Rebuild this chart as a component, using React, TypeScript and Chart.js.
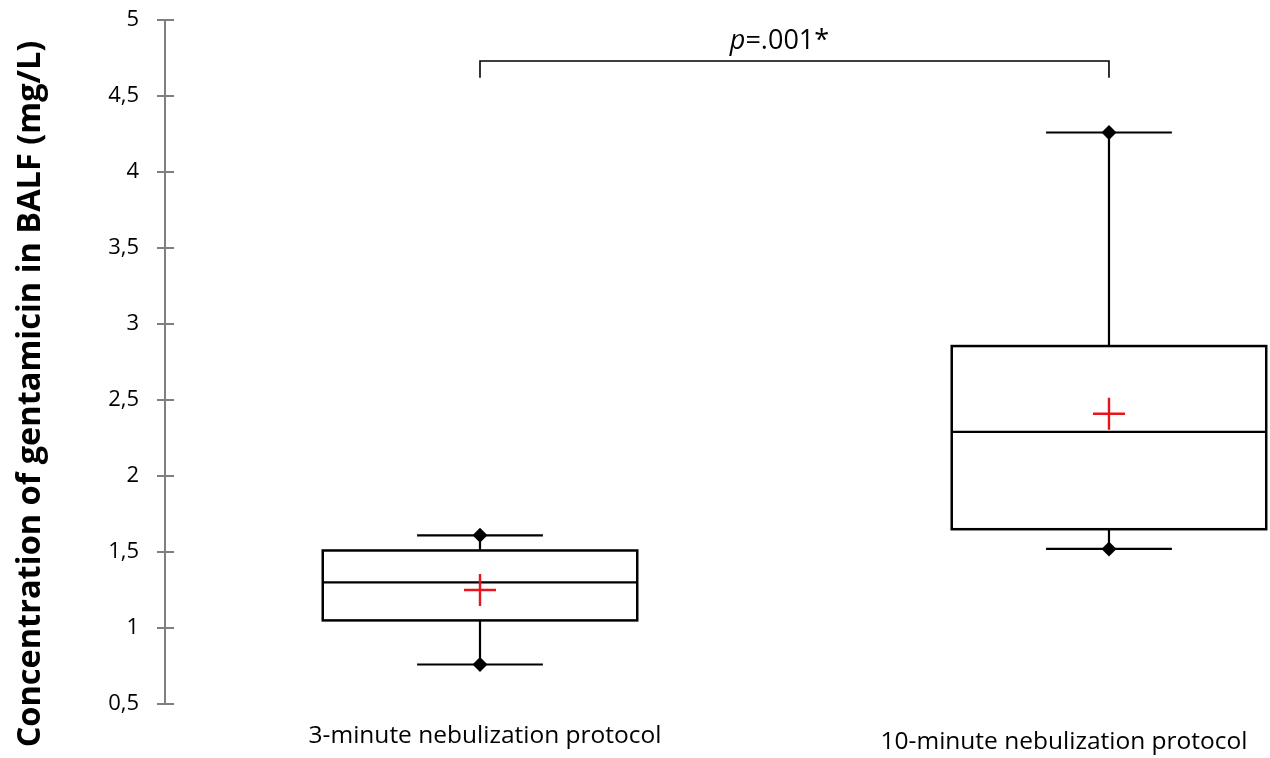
import React, { useEffect, useRef } from "react";
import { Chart, registerables } from "chart.js";

Chart.register(...registerables);

const categories = ["3-minute nebulization protocol", "10-minute nebulization protocol"];
const categoryX = [1, 2];
const q1Values = [1.05, 1.65];
const q3Values = [1.51, 2.855];
const medianValues = [1.3, 2.29];
const meanValues = [1.25, 2.41];
const minValues = [0.76, 1.52];
const maxValues = [1.61, 4.26];
const yTicks = [0.5, 1, 1.5, 2, 2.5, 3, 3.5, 4, 4.5, 5];
const yTitle = "Concentration of gentamicin in BALF (mg/L)";
const pLabelItalic = "p";
const pLabelRest = "=.001*";
const bracketValue = 4.73;
const bracketLegValue = 4.62;

const BOX_HALF = 0.25;
const CAP_HALF = 0.1;
const FONT = "'Open Sans', 'DejaVu Sans', sans-serif";
const AXIS_GRAY = "#7f7f7f";

const boxPlugin = {
  id: "boxPlugin",
  beforeDatasetsDraw(chart: any) {
    const { ctx, scales } = chart;
    const xs = scales.x;
    const ys = scales.y;
    ctx.save();
    ctx.strokeStyle = "#000";
    ctx.lineCap = "butt";
    for (let i = 0; i < categories.length; i++) {
      const cx = xs.getPixelForValue(categoryX[i]);
      const l = xs.getPixelForValue(categoryX[i] - BOX_HALF);
      const r = xs.getPixelForValue(categoryX[i] + BOX_HALF);
      const cl = xs.getPixelForValue(categoryX[i] - CAP_HALF);
      const cr = xs.getPixelForValue(categoryX[i] + CAP_HALF);
      const yq1 = ys.getPixelForValue(q1Values[i]);
      const yq3 = ys.getPixelForValue(q3Values[i]);
      const ymed = ys.getPixelForValue(medianValues[i]);
      const ymin = ys.getPixelForValue(minValues[i]);
      const ymax = ys.getPixelForValue(maxValues[i]);
      ctx.lineWidth = 2.2;
      ctx.beginPath();
      ctx.moveTo(cx, yq3);
      ctx.lineTo(cx, ymax);
      ctx.moveTo(cx, yq1);
      ctx.lineTo(cx, ymin);
      ctx.moveTo(cl, ymax);
      ctx.lineTo(cr, ymax);
      ctx.moveTo(cl, ymin);
      ctx.lineTo(cr, ymin);
      ctx.stroke();
      ctx.fillStyle = "#fff";
      ctx.fillRect(l, yq3, r - l, yq1 - yq3);
      ctx.lineWidth = 2.5;
      ctx.strokeRect(l, yq3, r - l, yq1 - yq3);
      ctx.lineWidth = 2.2;
      ctx.beginPath();
      ctx.moveTo(l, ymed);
      ctx.lineTo(r, ymed);
      ctx.stroke();
    }
    // bracket
    const bx1 = xs.getPixelForValue(categoryX[0]);
    const bx2 = xs.getPixelForValue(categoryX[1]);
    const by = ys.getPixelForValue(bracketValue);
    const byl = ys.getPixelForValue(bracketLegValue);
    ctx.lineWidth = 1.6;
    ctx.beginPath();
    ctx.moveTo(bx1, byl);
    ctx.lineTo(bx1, by);
    ctx.lineTo(bx2, by);
    ctx.lineTo(bx2, byl);
    ctx.stroke();
    // p label
    ctx.fillStyle = "#000";
    ctx.textBaseline = "alphabetic";
    ctx.font = `italic 27px ${FONT}`;
    const w1 = ctx.measureText(pLabelItalic).width;
    ctx.font = `27px ${FONT}`;
    const w2 = ctx.measureText(pLabelRest).width;
    const pcx = (bx1 + bx2) / 2 - 15;
    const px = pcx - (w1 + w2) / 2;
    const py = by - 12;
    ctx.font = `italic 27px ${FONT}`;
    ctx.textAlign = "left";
    ctx.fillText(pLabelItalic, px, py);
    ctx.font = `27px ${FONT}`;
    ctx.fillText(pLabelRest, px + w1, py);

    // small ticks to the right of the axis
    ctx.strokeStyle = AXIS_GRAY;
    ctx.lineWidth = 2;
    const ax = chart.chartArea.left;
    ctx.beginPath();
    for (const t of yTicks) {
      const ty = Math.round(ys.getPixelForValue(t));
      ctx.moveTo(ax, ty);
      ctx.lineTo(ax + 9, ty);
    }
    ctx.stroke();

    // category labels
    ctx.fillStyle = "#000";
    ctx.font = `24.5px ${FONT}`;
    ctx.textAlign = "center";
    ctx.textBaseline = "middle";
    const labelOffsets = [[5, 736], [-45, 742]];
    for (let i = 0; i < categories.length; i++) {
      const cx = xs.getPixelForValue(categoryX[i]);
      ctx.fillText(categories[i], cx + labelOffsets[i][0], labelOffsets[i][1]);
    }

    // y title
    ctx.save();
    ctx.translate(31, 394);
    ctx.rotate(-Math.PI / 2);
    ctx.font = `bold 32.5px ${FONT}`;
    ctx.textAlign = "center";
    ctx.textBaseline = "middle";
    ctx.fillText(yTitle, 0, 0);
    ctx.restore();
    ctx.restore();
  },
};

export default function App() {
  const ref = useRef<HTMLCanvasElement>(null);
  useEffect(() => {
    if (!ref.current) return;
    const chart = new Chart(ref.current, {
      type: "scatter",
      data: {
        datasets: [
          {
            label: "whisker ends",
            data: [
              ...categoryX.map((x, i) => ({ x, y: minValues[i] })),
              ...categoryX.map((x, i) => ({ x, y: maxValues[i] })),
            ],
            pointStyle: "rectRot",
            pointRadius: 7.5,
            backgroundColor: "#000",
            borderColor: "#000",
            borderWidth: 0,
          },
          {
            label: "mean",
            data: categoryX.map((x, i) => ({ x, y: meanValues[i] })),
            pointStyle: "cross",
            pointRadius: 16,
            borderColor: "#e8141c",
            borderWidth: 2.4,
          },
        ],
      },
      options: {
        animation: false,
        responsive: false,
        events: [],
        layout: { autoPadding: false, padding: { left: 0, right: 0, top: 20, bottom: 54 } },
        plugins: { legend: { display: false }, tooltip: { enabled: false } },
        scales: {
          x: {
            type: "linear",
            display: false,
            min: 0.4992,
            max: 2.256,
          },
          y: {
            type: "linear",
            min: 0.5,
            max: 5,
            afterFit: (s: any) => {
              s.width = 165;
              s.paddingTop = 0;
              s.paddingBottom = 0;
            },
            afterBuildTicks: (s: any) => {
              s.ticks = yTicks.map((v) => ({ value: v }));
            },
            ticks: {
              font: { family: FONT, size: 22 },
              color: "#000",
              padding: 18,
              callback: (v: any) => String(v).replace(".", ","),
            },
            grid: {
              drawOnChartArea: false,
              drawTicks: true,
              tickLength: 8,
              color: AXIS_GRAY,
              lineWidth: 2,
            },
            border: { display: true, color: AXIS_GRAY, width: 2 },
          },
        },
      },
      plugins: [boxPlugin],
    });
    return () => chart.destroy();
  }, []);
  return (
    <div style={{ position: "fixed", left: 0, top: 0, width: 1270, height: 758, background: "#fff" }}>
      <canvas ref={ref} width={1270} height={758} style={{ width: 1270, height: 758 }} />
    </div>
  );
}
